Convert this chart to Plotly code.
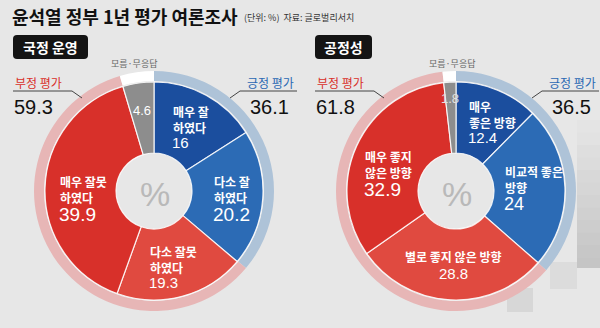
import plotly.graph_objects as go

W, H = 600, 328

# ---- data ----
title = "윤석열 정부 1년 평가 여론조사"
subtitle = "(단위: %)  자료: 글로벌리서치"

panel_titles = ["국정 운영", "공정성"]

gov_labels = ["매우 잘<br>하였다", "다소 잘<br>하였다", "다소 잘못<br>하였다", "매우 잘못<br>하였다", "모름·무응답"]
gov_values = [16, 20.2, 19.3, 39.9, 4.6]
gov_summary = [36.1, 59.3, 4.6]  # 긍정, 부정, 모름

fair_labels = ["매우<br>좋은 방향", "비교적 좋은<br>방향", "별로 좋지 않은 방향", "매우 좋지<br>않은 방향", "모름·무응답"]
fair_values = [12.4, 24, 28.8, 32.9, 1.8]
fair_summary = [36.5, 61.8, 1.8]

summary_names = ["긍정 평가", "부정 평가"]

# ---- style ----
BG = "#e7e7e7"
SLICE_COLORS = ["#1b4e9e", "#2c6bb5", "#e04a40", "#d8302a", "#8d8d8d"]
RING_COLORS = ["#aec3d8", "#e7b6b6", "#ffffff"]
RED = "#d9302a"
BLUE = "#2a67b3"
KR = "Noto Sans CJK KR"
NUM = "Liberation Sans, Noto Sans CJK KR"


def px(x):
    return x / W


def py(y):
    return 1 - y / H


def fmt(v):
    return f"{v:g}"


def domain(cx, cy, r):
    return dict(x=[px(cx - r), px(cx + r)], y=[py(cy + r), py(cy - r)])


fig = go.Figure()
annotations = []
shapes = []

# soft paper shadow behind the right-hand chart
for k in range(12):
    y0 = 120 + k * 12.5
    shapes.append(dict(type="rect", xref="paper", yref="paper", layer="below",
                       x0=px(577), x1=px(600), y0=py(min(y0 + 12.5, 268)), y1=py(y0),
                       fillcolor=f"rgba(110,110,110,{0.02 + 0.024 * k:.3f})", line=dict(width=0)))
shapes.append(dict(type="rect", xref="paper", yref="paper", layer="below",
                   x0=px(550), x1=px(577), y0=py(289), y1=py(262),
                   fillcolor="rgba(140,140,140,0.12)", line=dict(width=0)))
shapes.append(dict(type="rect", xref="paper", yref="paper", layer="below",
                   x0=px(507), x1=px(533), y0=py(312), y1=py(288),
                   fillcolor="rgba(120,120,120,0.14)", line=dict(width=0)))

panels = [
    dict(cx=154, cy=191, values=gov_values, labels=gov_labels, summary=gov_summary, off=0),
    dict(cx=456, cy=191, values=fair_values, labels=fair_labels, summary=fair_summary, off=302),
]

for p in panels:
    cx, cy = p["cx"], p["cy"]
    # outer summary ring
    fig.add_trace(go.Pie(
        values=p["summary"], sort=False, direction="clockwise", rotation=0,
        hole=110 / 120, domain=domain(cx, cy, 120),
        marker=dict(colors=RING_COLORS, line=dict(width=0)),
        textinfo="none", hoverinfo="skip", showlegend=False,
    ))
    # detailed donut
    fig.add_trace(go.Pie(
        values=p["values"], sort=False, direction="clockwise", rotation=0,
        hole=38 / 109, domain=domain(cx, cy, 109),
        marker=dict(colors=SLICE_COLORS, line=dict(color="rgba(255,255,255,0.85)", width=1.2)),
        textinfo="none", hoverinfo="skip", showlegend=False,
    ))


def text(x, y, s, size, color="white", xanchor="left", family=KR, yanchor="middle"):
    annotations.append(dict(x=px(x), y=py(y), text=s, showarrow=False,
                            font=dict(family=family, size=size, color=color),
                            xanchor=xanchor, yanchor=yanchor, align=xanchor))


def block(x, y, label, value, size, xanchor="left"):
    """Slice caption: label lines (one text element) with the value underneath."""
    n = len(label.split("<br>"))
    text(x, y, f"<b>{label}</b>", 12, xanchor=xanchor)
    last = y + (n - 1) * 15.6 / 2
    text(x - (1 if xanchor == "left" else 0), last + 10 + size * 0.36 + (2 if n == 1 else 0),
         fmt(value), size, xanchor=xanchor, family=NUM)


for p in panels:
    # percent sign in the hole
    text(p["cx"] + 1, p["cy"] + 3, "%", 34, color="#b9b9b9", xanchor="center", family=NUM)

# title
text(10, 16, f"<b>{title}</b>", 18, color="#111111")
text(242, 17, subtitle, 9, color="#333333")

# panel header boxes
for i, (x0, x1) in enumerate([(13, 88), (315, 372)]):
    y0, y1, r = 35, 59, 4
    path = (f"M {px(x0 + r)} {py(y0)} L {px(x1 - r)} {py(y0)} Q {px(x1)} {py(y0)} {px(x1)} {py(y0 + r)} "
            f"L {px(x1)} {py(y1 - r)} Q {px(x1)} {py(y1)} {px(x1 - r)} {py(y1)} "
            f"L {px(x0 + r)} {py(y1)} Q {px(x0)} {py(y1)} {px(x0)} {py(y1 - r)} "
            f"L {px(x0)} {py(y0 + r)} Q {px(x0)} {py(y0)} {px(x0 + r)} {py(y0)} Z")
    shapes.append(dict(type="path", xref="paper", yref="paper", path=path,
                       fillcolor="#141414", line=dict(width=0)))
    text((x0 + x1) / 2, 47, f"<b>{panel_titles[i]}</b>", 14, xanchor="center")

for p in panels:
    o = p["off"]
    cx = p["cx"]
    # "모름·무응답" caption
    text(cx - 20 + (o and 16), 63, p["labels"][4], 9, color="#666666", xanchor="center")
    # negative / positive summaries
    text(13 + o, 82, summary_names[1], 12, color=RED)
    text(12 + o, 107, fmt(p["summary"][1]), 20, color="#111111", family=NUM)
    text(296 + o, 82, summary_names[0], 12, color=BLUE, xanchor="right")
    text(248 + o, 107, fmt(p["summary"][0]), 20, color="#111111", family=NUM)
    # leader lines
    shapes.append(dict(type="path", xref="paper", yref="paper",
                       path=f"M {px(13 + o)} {py(91)} L {px(72 + o)} {py(91)} L {px(82 + o)} {py(98)}",
                       line=dict(color="#444444", width=1)))
    shapes.append(dict(type="path", xref="paper", yref="paper",
                       path=f"M {px(230 + o)} {py(98)} L {px(240 + o)} {py(91)} L {px(297 + o)} {py(91)}",
                       line=dict(color="#444444", width=1)))

# slice captions: 국정 운영
v, L = gov_values, gov_labels
block(171, 119.5, L[0], v[0], 15)
block(212, 189.5, L[1], v[1], 19)
block(148, 259.5, L[2], v[2], 15)
block(58, 189.5, L[3], v[3], 19)
text(142, 110, fmt(v[4]), 13, xanchor="center", family=NUM)

# slice captions: 공정성
v, L = fair_values, fair_labels
block(467, 114.5, L[0], v[0], 15)
block(503, 179.5, L[1], v[1], 18)
block(453, 256, L[2], v[2], 15, xanchor="center")
block(363, 164.5, L[3], v[3], 19)
text(450, 98, fmt(v[4]), 13, color="#e0e0e0", xanchor="center", family=NUM)

fig.update_layout(
    width=W, height=H, margin=dict(l=0, r=0, t=0, b=0),
    paper_bgcolor=BG, plot_bgcolor=BG,
    annotations=annotations, shapes=shapes, showlegend=False,
)

fig.write_html("out.html", config={"displayModeBar": False})
